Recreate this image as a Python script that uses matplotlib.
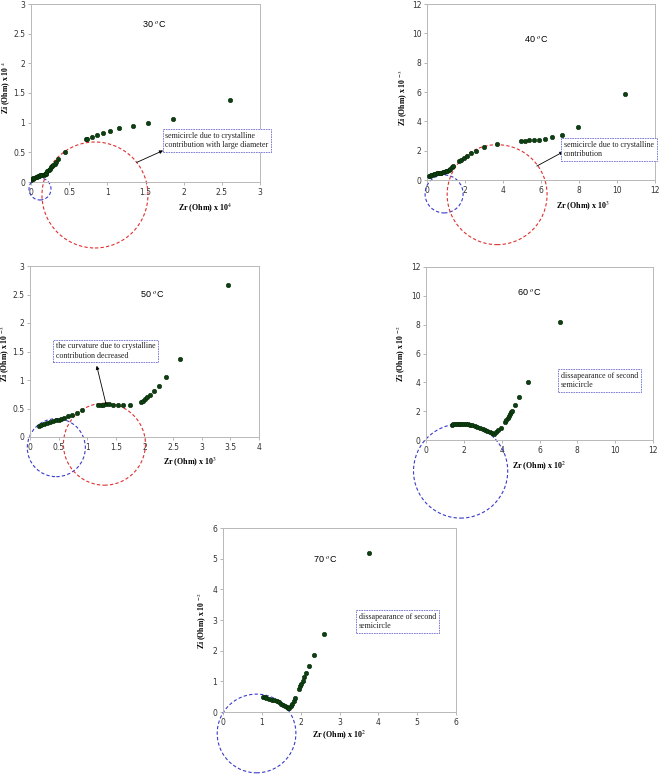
import matplotlib
matplotlib.use("Agg")
import matplotlib.pyplot as plt
from matplotlib.patches import Ellipse
from matplotlib.ticker import FormatStrFormatter

plt.rcParams['mathtext.fontset'] = 'stix'

# ---- data (Zr, Zi in the units of each panel) ----
zr30 = [0.0, 0.01, 0.02, 0.03, 0.045, 0.06, 0.075, 0.09, 0.105, 0.12, 0.135, 0.15, 0.165, 0.18,
        0.19, 0.2, 0.215, 0.23, 0.245, 0.26, 0.275, 0.29, 0.31, 0.33, 0.36, 0.45, 0.72, 0.74,
        0.795, 0.86, 0.94, 1.035, 1.157, 1.33, 1.537, 1.86, 2.607]
zi30 = [0.03, 0.045, 0.055, 0.065, 0.075, 0.085, 0.092, 0.098, 0.104, 0.11, 0.115, 0.12, 0.126, 0.132,
        0.14, 0.16, 0.185, 0.205, 0.225, 0.245, 0.265, 0.285, 0.31, 0.34, 0.39, 0.50, 0.72, 0.73,
        0.765, 0.79, 0.833, 0.867, 0.91, 0.94, 0.99, 1.058, 1.39]

zr40 = [0.1, 0.15, 0.2, 0.27, 0.35, 0.43, 0.5, 0.58, 0.66, 0.74, 0.82, 0.9, 0.98, 1.06, 1.14, 1.22,
        1.3, 1.36, 1.66, 1.79, 1.93, 2.10, 2.31, 2.59, 2.98, 3.68, 4.94, 5.15, 5.36, 5.61, 5.89,
        6.22, 6.60, 7.11, 7.95, 10.42]
zi40 = [0.25, 0.3, 0.33, 0.37, 0.4, 0.43, 0.45, 0.47, 0.49, 0.51, 0.53, 0.56, 0.59, 0.63, 0.69, 0.76,
        0.86, 0.95, 1.27, 1.36, 1.5, 1.66, 1.82, 2.0, 2.27, 2.48, 2.68, 2.68, 2.70, 2.73, 2.75,
        2.80, 2.93, 3.09, 3.61, 5.89]

zr50 = [0.16, 0.2, 0.25, 0.3, 0.35, 0.4, 0.45, 0.5, 0.55, 0.6, 0.657, 0.738, 0.814, 0.913, 1.186,
        1.233, 1.279, 1.326, 1.384, 1.453, 1.53, 1.628, 1.744, 1.94, 1.977, 2.01, 2.05, 2.10,
        2.163, 2.25, 2.384, 2.616, 3.465]
zi50 = [0.185, 0.21, 0.23, 0.25, 0.265, 0.28, 0.29, 0.3, 0.315, 0.33, 0.361, 0.39, 0.425, 0.472, 0.553,
        0.559, 0.565, 0.571, 0.571, 0.565, 0.559, 0.559, 0.559, 0.617, 0.64, 0.664, 0.70, 0.745,
        0.804, 0.897, 1.054, 1.369, 2.667]

zr60 = [1.36, 1.45, 1.54, 1.63, 1.72, 1.8, 1.9, 2.0, 2.1, 2.2, 2.33, 2.45, 2.59, 2.72, 2.86, 2.99,
        3.12, 3.25, 3.39, 3.5, 3.6, 3.7, 3.83, 3.95, 4.18, 4.25, 4.32, 4.38, 4.44, 4.5, 4.55,
        4.71, 4.92, 5.40, 7.09]
zi60 = [1.07, 1.09, 1.11, 1.13, 1.14, 1.14, 1.14, 1.13, 1.12, 1.10, 1.07, 1.02, 0.97, 0.92, 0.86, 0.78,
        0.69, 0.62, 0.56, 0.5, 0.44, 0.56, 0.69, 0.86, 1.27, 1.42, 1.55, 1.68, 1.8, 1.92, 2.04,
        2.41, 2.99, 4.03, 8.2]

zr70 = [1.03, 1.08, 1.12, 1.18, 1.25, 1.31, 1.38, 1.44, 1.5, 1.55, 1.59, 1.64, 1.68, 1.71, 1.74,
        1.78, 1.82, 1.86, 1.95, 1.98, 2.0, 2.05, 2.08, 2.13, 2.21, 2.35, 2.6, 3.75]
zi70 = [0.49, 0.48, 0.46, 0.44, 0.40, 0.38, 0.35, 0.31, 0.27, 0.22, 0.18, 0.15, 0.12, 0.14, 0.18,
        0.26, 0.35, 0.45, 0.76, 0.84, 0.91, 1.0, 1.13, 1.27, 1.49, 1.85, 2.55, 5.2]

temps = ['30', '40', '50', '60', '70']
exps = ['4', '3', '3', '2', '2']
ylab_exps = ['4', '-3', '-3', '-2', '-2']
limits = [3, 12, 4, 12, 6]
ylimits = [3, 12, 3, 12, 6]
steps = [0.5, 2, 0.5, 2, 1]

# ---- layout (pixel rectangles l, t, r, b of each plot area) ----
W, H = 660, 774
rects = [(31, 4, 260, 182), (427, 4, 655, 180), (30, 266, 259, 437),
         (426, 267, 653, 440), (223, 528, 456, 712)]

fig = plt.figure(figsize=(W / 100, H / 100), dpi=100)
fig.patch.set_facecolor('white')

series = [(zr30, zi30), (zr40, zi40), (zr50, zi50), (zr60, zi60), (zr70, zi70)]

# circles: (panel, cx, cy, r in x units, colour)
circles = [(0, 0.118, -0.118, 0.144, '#3a3acc'), (0, 0.838, -0.219, 0.694, '#e03030'),
           (1, 0.90, -0.95, 1.0, '#3a3acc'), (1, 3.69, -1.0, 2.63, '#e03030'),
           (2, 0.46, -0.187, 0.507, '#3a3acc'), (2, 1.30, -0.126, 0.716, '#e03030'),
           (3, 1.83, -2.15, 2.49, '#3a3acc'),
           (4, 0.864, -0.70, 1.013, '#3a3acc')]

temp_pos = [(1.61, 2.65), (5.76, 9.54), (2.13, 2.5), (5.47, 10.24), (2.62, 4.97)]
xlab_pos = [(0.76, -0.11), (0.686, -0.114), (0.70, -0.109), (0.5, -0.116), (0.5, -0.091)]
ylab_pos = [(-0.08, 0.53), (-0.075, 0.47), (-0.08, 0.49), (-0.079, 0.50), (-0.06, 0.50)]

notes = [(0, 1.76, 0.84, 'semicircle due to crystalline\ncontribution with large diameter'),
         (1, 7.22, 2.64, 'semicircle due to crystalline\ncontribution'),
         (2, 0.45, 1.66, 'the curvature due to crystalline\ncontribution decreased'),
         (3, 7.12, 4.72, 'dissapearance of second\nsemicircle'),
         (4, 3.49, 3.23, 'dissapearance of second\nsemicircle')]
arrows = [(0, (1.73, 0.53), (1.385, 0.33)),
          (1, (7.18, 1.93), (5.78, 0.95)),
          (2, (1.165, 1.25), (1.327, 0.58))]

axes = []
for i, (l, t, r, b) in enumerate(rects):
    ax = fig.add_axes([l / W, 1 - b / H, (r - l) / W, (b - t) / H])
    axes.append(ax)
    zr, zi = series[i]
    ax.plot(zr, zi, 'o', color='#0d4010', mec='#062806', mew=0.4, ms=3.2, zorder=3)
    ax.set_xlim(0, limits[i])
    ax.set_ylim(0, ylimits[i])
    xt = [k * steps[i] for k in range(int(round(limits[i] / steps[i])) + 1)]
    yt = [k * steps[i] for k in range(int(round(ylimits[i] / steps[i])) + 1)]
    ax.set_xticks(xt)
    ax.set_yticks(yt)
    ax.xaxis.set_major_formatter(FormatStrFormatter('%g'))
    ax.yaxis.set_major_formatter(FormatStrFormatter('%g'))
    ax.tick_params(labelsize=5.5, length=2.5, width=0.5, color='#999999',
                   labelcolor='#333333', pad=1.5, direction='out')
    for s in ax.spines.values():
        s.set_color('#b8b8b8')
        s.set_linewidth(0.7)
    ax.set_xlabel('Zr (Ohm) x 10$^{%s}$' % exps[i], fontsize=5.8, fontweight='bold',
                  family='Liberation Serif')
    ax.set_ylabel('Zi (Ohm) x 10 $^{%s}$' % ylab_exps[i], fontsize=5.6, fontweight='bold',
                  family='Liberation Serif')
    ax.xaxis.set_label_coords(*xlab_pos[i])
    ax.yaxis.set_label_coords(*ylab_pos[i])
    ax.text(temp_pos[i][0], temp_pos[i][1], temps[i] + ' $^{o}$C', fontsize=6.5,
            family='Liberation Sans', ha='center', va='center')

# dashed circles, round on the page
for (i, cx, cy, rr, col) in circles:
    l, t, r, b = rects[i]
    ppx = (r - l) / limits[i]
    ppy = (b - t) / ylimits[i]
    e = Ellipse((cx, cy), 2 * rr, 2 * rr * ppx / ppy, fill=False, ec=col, lw=0.8,
                ls=(0, (3, 2)), clip_on=False, zorder=2)
    axes[i].add_patch(e)

for (i, x, y, txt) in notes:
    axes[i].text(x, y, txt, fontsize=5.8, family='Liberation Serif', ha='left', va='top',
                 color='#222222', zorder=5,
                 bbox=dict(boxstyle='square,pad=0.35', fc='white', ec='#6b6bd0', lw=0.6,
                           ls=(0, (2, 1))))

for (i, head, tail) in arrows:
    axes[i].annotate('', xy=head, xytext=tail,
                     arrowprops=dict(arrowstyle='-|>', color='black', lw=0.6,
                                     mutation_scale=5, shrinkA=0, shrinkB=0),
                     annotation_clip=False)

fig.savefig('out.png', dpi=100, facecolor='white')
